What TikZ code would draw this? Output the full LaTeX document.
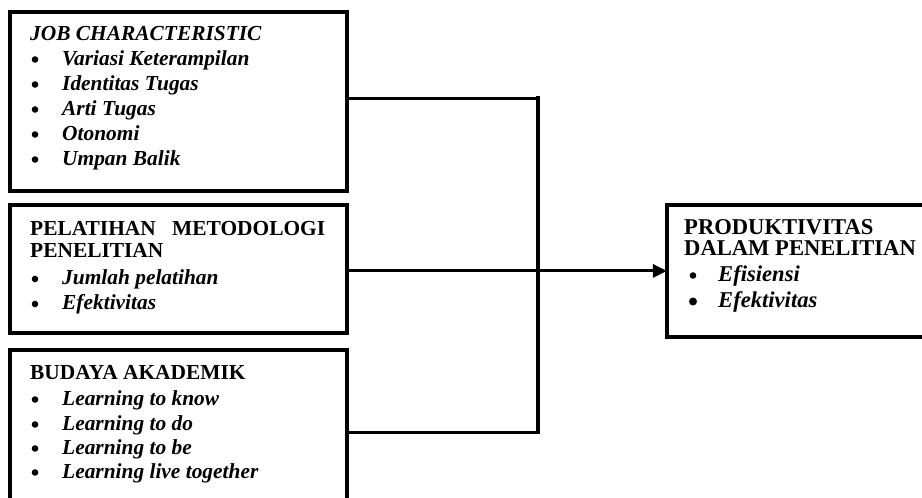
\documentclass[tikz,border=0pt]{standalone}
\usepackage{fontspec}
\setmainfont{Liberation Serif}
\usetikzlibrary{arrows.meta}
\begin{document}
\begin{tikzpicture}[x=1pt,y=-1pt,
  box/.style={draw=black,line width=3.8pt,fill=none,inner sep=0pt,outer sep=0pt,anchor=north west},
  conn/.style={draw=black,line width=3pt},
  vconn/.style={draw=black,line width=3.6pt,line cap=rect},
  txt/.style={anchor=base west,inner sep=0pt,font=\fontsize{21.4}{24}\selectfont\bfseries},
  rtxt/.style={anchor=base west,inner sep=0pt,font=\fontsize{22.6}{24}\selectfont\bfseries},
  bul/.style={circle,fill=black,draw=none,inner sep=0pt,minimum size=6.6pt}]
\clip (0,0) rectangle (922,498);
\fill[white] (0,0) rectangle (922,498);
% boxes
\node[box,minimum width=337pt,minimum height=179pt] (b1) at (9.9,11.9) {};
\node[box,minimum width=337pt,minimum height=128pt] (b2) at (9.9,204.9) {};
\node[box,minimum width=337pt,minimum height=180pt] (b3) at (9.9,349.9) {};
\node[box,minimum width=280pt,minimum height=132pt] (out) at (666.9,204.9) {};
% box 1 text
\node[txt] (t1) at (30,40) {\itshape JOB CHARACTERISTIC};
\node[bul] (t1a) at (35,59.5) {};
\node[txt] (t1b) at (62,65) {\itshape Variasi Keterampilan};
\node[bul] (t1c) at (35,84.5) {};
\node[txt] (t1d) at (62,90) {\itshape Identitas Tugas};
\node[bul] (t1e) at (35,109.5) {};
\node[txt] (t1f) at (62,115) {\itshape Arti Tugas};
\node[bul] (t1g) at (35,134.5) {};
\node[txt] (t1h) at (62,140) {\itshape Otonomi};
\node[bul] (t1i) at (35,159.5) {};
\node[txt] (t1j) at (62,165) {\itshape Umpan Balik};
% box 2 text
\node[txt] (t2) at (30,235) {\hbox to 295pt{PELATIHAN\hfill METODOLOGI}};
\node[txt] (t2a) at (30,257.5) {PENELITIAN};
\node[bul] (t2b) at (35,279) {};
\node[txt] (t2c) at (62,284.5) {\itshape Jumlah pelatihan};
\node[bul] (t2d) at (35,304) {};
\node[txt] (t2e) at (62,309.5) {\itshape Efektivitas};
% box 3 text
\node[txt] (t3) at (30,379) {BUDAYA AKADEMIK};
\node[bul] (t3a) at (35,399.5) {};
\node[txt] (t3b) at (62,405) {\itshape Learning to know};
\node[bul] (t3c) at (35,424.5) {};
\node[txt] (t3d) at (62,430) {\itshape Learning to do};
\node[bul] (t3e) at (35,448.5) {};
\node[txt] (t3f) at (62,454) {\itshape Learning to be};
\node[bul] (t3g) at (35,472.5) {};
\node[txt] (t3h) at (62,478) {\itshape Learning live together};
% output text
\node[rtxt] (t4) at (684,234) {PRODUKTIVITAS};
\node[rtxt] (t4a) at (684,255) {DALAM PENELITIAN};
\node[bul] (t4b) at (693,275.5) {};
\node[rtxt] (t4c) at (718,281) {\itshape Efisiensi};
\node[bul,minimum size=8pt] (t4d) at (693,301.5) {};
\node[rtxt] (t4e) at (718,307) {\itshape Efektivitas};
% connectors
\coordinate (jt) at (538,98);
\coordinate (jb) at (538,432);
\draw[conn] (b1.east |- jt) -- (jt);
\draw[vconn] (jt) -- (jb);
\draw[conn] (jb) -- (b3.east |- jb);
\draw[conn,-{Triangle[length=14pt,width=13pt]}] (b2.east |- out.west) -- (out.west);
\end{tikzpicture}
\end{document}
